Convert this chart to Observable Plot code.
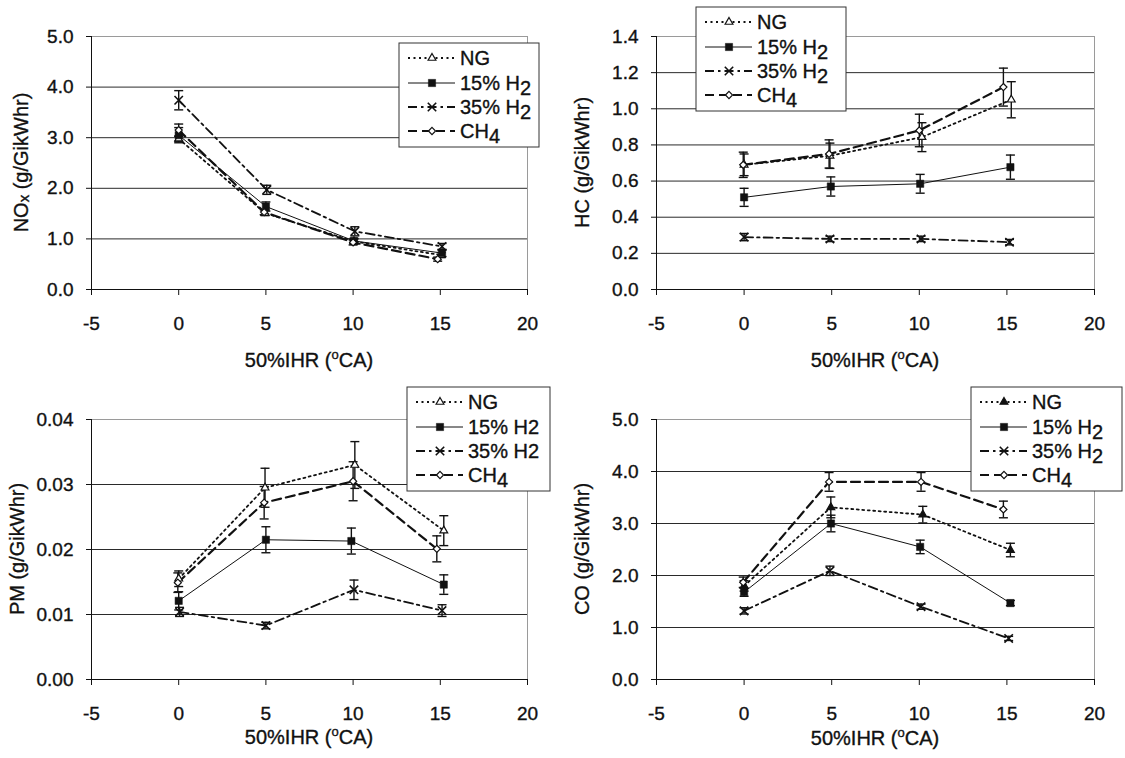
<!DOCTYPE html>
<html><head><meta charset="utf-8">
<script src="https://cdn.jsdelivr.net/npm/d3@7"></script>
<script src="https://cdn.jsdelivr.net/npm/@observablehq/plot@0.6"></script>
<style>
body{margin:0;background:#fff;}
#wrap{position:relative;width:1125px;height:758px;overflow:hidden;background:#fff;}
.panel{position:absolute;}
.panel svg text{stroke:#111;stroke-width:0.35px;}
</style></head><body><div id="wrap"></div>
<script>
// ---------------- DATA ----------------
const xTicks = [-5, 0, 5, 10, 15, 20];
const seriesLabels = ["NG", "15% H2", "35% H2", "CH4"];

// NOx (g/GikWhr)
const noxYTicks = [0, 1, 2, 3, 4, 5];
const noxX_NG = [0, 4.95, 10.05, 15.05], noxY_NG = [2.98, 1.51, 0.95, 0.68], noxE_NG = [0.05, 0.05, 0.05, 0.05];
const noxX_15 = [0, 5.0, 10.05, 15.1],  noxY_15 = [3.05, 1.64, 0.96, 0.72], noxE_15 = [0.15, 0.09, 0.05, 0.07];
const noxX_35 = [0, 5.05, 10.1, 15.1],  noxY_35 = [3.74, 1.97, 1.15, 0.85], noxE_35 = [0.19, 0.09, 0.09, 0.06];
const noxX_CH = [0, 4.9, 10.0, 14.85],  noxY_CH = [3.15, 1.53, 0.93, 0.60], noxE_CH = [0.12, 0.05, 0.05, 0.04];

// HC (g/GikWhr)
const hcYTicks = [0, 0.2, 0.4, 0.6, 0.8, 1.0, 1.2, 1.4];
const hcX_NG = [0, 4.9, 10.15, 15.25], hcY_NG = [0.69, 0.74, 0.843, 1.05], hcE_NG = [0.06, 0.07, 0.08, 0.10];
const hcX_15 = [0, 4.95, 10.05, 15.2], hcY_15 = [0.51, 0.57, 0.585, 0.677], hcE_15 = [0.05, 0.053, 0.052, 0.067];
const hcX_35 = [0, 4.9, 10.1, 15.15],  hcY_35 = [0.29, 0.28, 0.28, 0.262], hcE_35 = [0.02, 0.015, 0.015, 0.015];
const hcX_CH = [-0.05, 4.85, 10.0, 14.8], hcY_CH = [0.69, 0.75, 0.88, 1.12], hcE_CH = [0.07, 0.078, 0.09, 0.105];

// PM (g/GikWhr)
const pmYTicks = [0, 0.01, 0.02, 0.03, 0.04];
const pmX_NG = [0, 4.95, 10.1, 15.2],  pmY_NG = [0.0155, 0.0295, 0.033, 0.0229], pmE_NG = [0.0012, 0.003, 0.0036, 0.0023];
const pmX_15 = [0, 5.0, 9.9, 15.2],   pmY_15 = [0.0121, 0.0215, 0.0213, 0.0146], pmE_15 = [0.0014, 0.002, 0.002, 0.0015];
const pmX_35 = [0.05, 5.0, 10.05, 15.1], pmY_35 = [0.0104, 0.0083, 0.0138, 0.0106], pmE_35 = [0.0007, 0.0005, 0.0015, 0.0009];
const pmX_CH = [-0.05, 4.9, 10.0, 14.8], pmY_CH = [0.0149, 0.0272, 0.0305, 0.0201], pmE_CH = [0.0015, 0.0025, 0.003, 0.002];

// CO (g/GikWhr)
const coYTicks = [0, 1, 2, 3, 4, 5];
const coX_NG = [0, 4.95, 10.2, 15.2],  coY_NG = [1.80, 3.31, 3.17, 2.49], coE_NG = [0.10, 0.20, 0.16, 0.13];
const coX_15 = [0, 4.96, 10.05, 15.2], coY_15 = [1.68, 3.00, 2.55, 1.47], coE_15 = [0.08, 0.16, 0.13, 0.05];
const coX_35 = [0, 4.9, 10.1, 15.1],   coY_35 = [1.32, 2.09, 1.40, 0.79], coE_35 = [0.06, 0.09, 0.05, 0.04];
const coX_CH = [-0.05, 4.85, 10.1, 14.8], coY_CH = [1.87, 3.80, 3.80, 3.27], coE_CH = [0.10, 0.18, 0.18, 0.16];

// ---------------- STYLE ----------------
const FONT = '"Liberation Sans", Arial, Helvetica, sans-serif';
const INK = "#111";
const capSym = { draw(ctx, size) { const r = Math.sqrt(size / Math.PI); ctx.moveTo(-r, 0); ctx.lineTo(r, 0); } };
const styles = [
  { dash: "2,3.5", sw: 1.8, sym: "triangle", d3sym: d3.symbolTriangle, r: 2.9, fill: "white", sStroke: 1.2 },
  { dash: null, sw: 1, sym: "square", d3sym: d3.symbolSquare, r: 4.1, fill: INK, sStroke: 0.5 },
  { dash: "9,4,2.5,4", sw: 1.8, sym: "times", d3sym: d3.symbolTimes, r: 3.9, fill: "none", sStroke: 1.6 },
  { dash: "9,5", sw: 2.2, sym: "diamond2", d3sym: d3.symbolDiamond2, r: 3.2, fill: "white", sStroke: 1.2 }
];

function rows(xs, ys, es) { return xs.map((x, i) => ({ x, y: ys[i], lo: ys[i] - es[i], hi: ys[i] + es[i] })); }

function rich(sel, parts, base) {
  let shift = 0;
  parts.forEach(p => {
    const s = p.shift || 0;
    sel.append("tspan").attr("dy", s - shift).attr("font-size", p.size || base).text(p.t);
    shift = s;
  });
}

function panel(cfg) {
  const { left, top, W, H, ml, mr, mt, mb, yTicks, yFmt, data, yTitle, yTitleX, xTitleDY, leg, legSub, ngFilled } = cfg;
  const yMax = yTicks[yTicks.length - 1];
  const grid = yTicks.filter(v => v > 0 && v < yMax);
  const marks = [
    Plot.ruleY(grid, { stroke: "#2a2a2a", strokeWidth: 1 }),
    Plot.frame({ stroke: "#9a9a9a" }),
    Plot.ruleY([0], { stroke: INK }),
    Plot.ruleX([-5], { stroke: INK }),
    Plot.axisX({ ticks: xTicks, tickSize: 6, tickPadding: 21, tickFormat: d => String(d), label: null, fontSize: 19, stroke: INK }),
    Plot.axisY({ ticks: yTicks, tickSize: 5, tickPadding: 13, tickFormat: yFmt, label: null, fontSize: 19, stroke: INK })
  ];
  data.forEach((d, i) => {
    const st = styles[i];
    marks.push(Plot.line(d, { x: "x", y: "y", stroke: INK, strokeWidth: st.sw, strokeDasharray: st.dash || undefined }));
  });
  data.forEach((d, i) => {
    marks.push(Plot.ruleX(d, { x: "x", y1: "lo", y2: "hi", stroke: INK, strokeWidth: 1.4 }));
    marks.push(Plot.dot(d, { x: "x", y: "lo", symbol: capSym, r: 4.5, stroke: INK, strokeWidth: 1.4 }));
    marks.push(Plot.dot(d, { x: "x", y: "hi", symbol: capSym, r: 4.5, stroke: INK, strokeWidth: 1.4 }));
  });
  data.forEach((d, i) => {
    const st = styles[i];
    const fill = (i === 0 && ngFilled) ? INK : st.fill;
    marks.push(Plot.dot(d, { x: "x", y: "y", symbol: st.sym, r: st.r, fill, stroke: INK, strokeWidth: st.sStroke }));
  });
  const svg = Plot.plot({
    width: W, height: H, marginLeft: ml, marginRight: mr, marginTop: mt, marginBottom: mb,
    x: { domain: [-5, 20] }, y: { domain: [0, yMax] },
    style: { fontFamily: FONT, fontSize: "19px", color: INK, background: "transparent", overflow: "visible" },
    marks
  });
  const div = document.createElement("div");
  div.className = "panel";
  div.style.left = left + "px"; div.style.top = top + "px";
  div.appendChild(svg);
  document.getElementById("wrap").appendChild(div);

  const s = d3.select(svg);
  const midY = (mt + H - mb) / 2, midX = (ml + W - mr) / 2;
  // y title
  const yt = s.append("text").attr("transform", `translate(${yTitleX},${midY}) rotate(-90)`)
    .attr("text-anchor", "middle").attr("dominant-baseline", "central")
    .attr("font-family", FONT).attr("font-size", 20).attr("fill", INK);
  rich(yt, yTitle, 20);
  // x title
  const xt = s.append("text").attr("x", midX).attr("y", H - mb + xTitleDY)
    .attr("text-anchor", "middle").attr("font-family", FONT).attr("font-size", 20).attr("fill", INK);
  rich(xt, [{ t: "50%IHR (" }, { t: "o", size: 13, shift: -8 }, { t: "CA)" }], 20);
  // legend
  const g = s.append("g").attr("transform", `translate(${leg.x},${leg.y})`);
  g.append("rect").attr("width", leg.w).attr("height", 104).attr("fill", "white").attr("stroke", "#333").attr("stroke-width", 1);
  const rowsY = [15, 40, 64, 88];
  seriesLabels.forEach((lab, i) => {
    const st = styles[i], y = rowsY[i];
    const ln = g.append("line").attr("x1", 9).attr("x2", 56).attr("y1", y).attr("y2", y)
      .attr("stroke", INK).attr("stroke-width", st.sw);
    if (st.dash) ln.attr("stroke-dasharray", st.dash);
    const fill = (i === 0 && ngFilled) ? INK : st.fill;
    g.append("path").attr("transform", `translate(33,${y})`)
      .attr("d", d3.symbol(st.d3sym, Math.PI * st.r * st.r)())
      .attr("fill", fill).attr("stroke", INK).attr("stroke-width", st.sStroke);
    const tx = g.append("text").attr("x", 61).attr("y", y + 7).attr("font-family", FONT)
      .attr("text-anchor", "start").attr("font-size", 20).attr("fill", INK);
    if (i === 1 || i === 2) {
      if (legSub) rich(tx, [{ t: lab.slice(0, -1) }, { t: "2", shift: 5 }], 20);
      else tx.text(lab);
    } else if (i === 3) {
      rich(tx, [{ t: "CH" }, { t: "4", shift: 5 }], 20);
    } else tx.text(lab);
  });
}

const f1 = d3.format(".1f"), f2 = d3.format(".2f");

panel({ left: 0, top: 0, W: 560, H: 379, ml: 91, mr: 33, mt: 36, mb: 90, yTicks: noxYTicks, yFmt: f1,
  data: [rows(noxX_NG, noxY_NG, noxE_NG), rows(noxX_15, noxY_15, noxE_15), rows(noxX_35, noxY_35, noxE_35), rows(noxX_CH, noxY_CH, noxE_CH)],
  yTitle: [{ t: "NO" }, { t: "x", size: 15, shift: 2 }, { t: " (g/GikWhr)" }], yTitleX: 21, xTitleDY: 78,
  leg: { x: 399, y: 43, w: 140 }, legSub: true, ngFilled: false });

panel({ left: 560, top: 0, W: 565, H: 379, ml: 96, mr: 31, mt: 36, mb: 90, yTicks: hcYTicks, yFmt: f1,
  data: [rows(hcX_NG, hcY_NG, hcE_NG), rows(hcX_15, hcY_15, hcE_15), rows(hcX_35, hcY_35, hcE_35), rows(hcX_CH, hcY_CH, hcE_CH)],
  yTitle: [{ t: "HC (g/GikWhr)" }], yTitleX: 22, xTitleDY: 78,
  leg: { x: 136, y: 7, w: 150 }, legSub: true, ngFilled: false });

panel({ left: 0, top: 379, W: 560, H: 379, ml: 91, mr: 33, mt: 40, mb: 79, yTicks: pmYTicks, yFmt: f2,
  data: [rows(pmX_NG, pmY_NG, pmE_NG), rows(pmX_15, pmY_15, pmE_15), rows(pmX_35, pmY_35, pmE_35), rows(pmX_CH, pmY_CH, pmE_CH)],
  yTitle: [{ t: "PM (g/GikWhr)" }], yTitleX: 17, xTitleDY: 65,
  leg: { x: 407, y: 8, w: 143 }, legSub: false, ngFilled: false });

panel({ left: 560, top: 379, W: 565, H: 379, ml: 96, mr: 31, mt: 40, mb: 79, yTicks: coYTicks, yFmt: f1,
  data: [rows(coX_NG, coY_NG, coE_NG), rows(coX_15, coY_15, coE_15), rows(coX_35, coY_35, coE_35), rows(coX_CH, coY_CH, coE_CH)],
  yTitle: [{ t: "CO (g/GikWhr)" }], yTitleX: 22, xTitleDY: 66,
  leg: { x: 411, y: 8, w: 151 }, legSub: true, ngFilled: true });
</script>
</body></html>
